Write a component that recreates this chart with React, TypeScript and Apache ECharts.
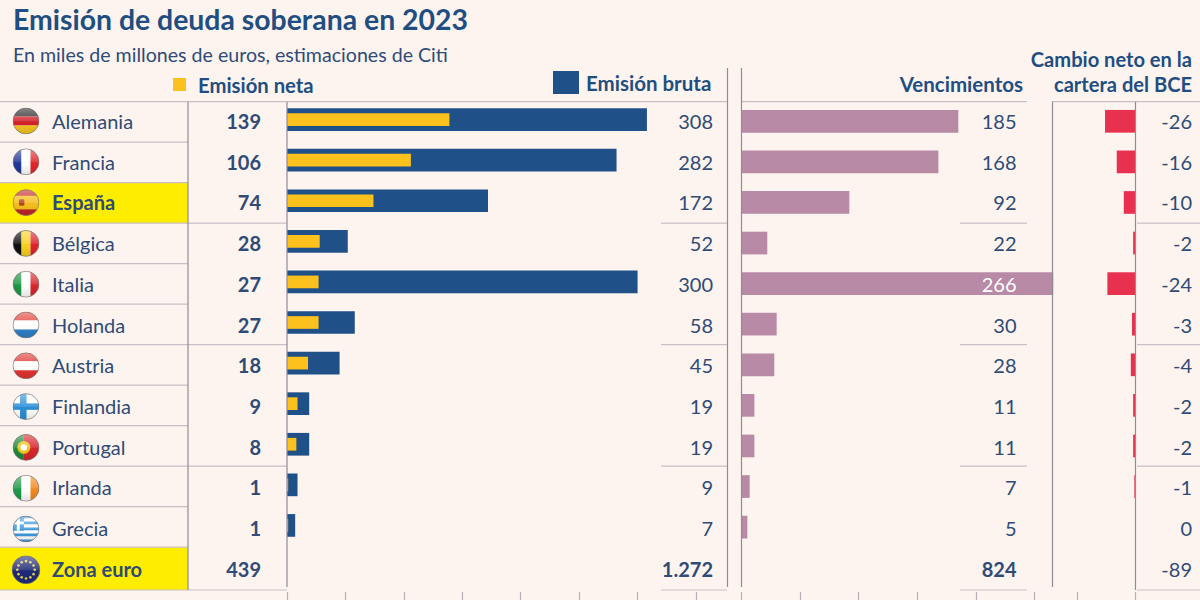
import React, { useEffect, useRef } from "react";
import * as echarts from "echarts";

const countries = ["Alemania", "Francia", "España", "Bélgica", "Italia", "Holanda", "Austria", "Finlandia", "Portugal", "Irlanda", "Grecia", "Zona euro"];
const netIssue = [139, 106, 74, 28, 27, 27, 18, 9, 8, 1, 1];
const grossIssue = [308, 282, 172, 52, 300, 58, 45, 19, 19, 9, 7];
const maturities = [185, 168, 92, 22, 266, 30, 28, 11, 11, 7, 5];
const ecbChange = [-26, -16, -10, -2, -24, -3, -4, -2, -2, -1, 0];
const netLabels = ["139", "106", "74", "28", "27", "27", "18", "9", "8", "1", "1", "439"];
const grossLabels = ["308", "282", "172", "52", "300", "58", "45", "19", "19", "9", "7", "1.272"];
const maturityLabels = ["185", "168", "92", "22", "266", "30", "28", "11", "11", "7", "5", "824"];
const ecbLabels = ["-26", "-16", "-10", "-2", "-24", "-3", "-4", "-2", "-2", "-1", "0", "-89"];
const highlighted = ["España", "Zona euro"];

const BG = "#fdf4ef";
const NAVY = "#1f4e82";
const TEXT = "#2f4b78";
const LINE = "#c9bfc6";
const VLINE = "#8f8d94";
const FONT = "Lato";

const hStripes = (cols: string[], w: number[] = cols.map(() => 1)) => {
  const total = w.reduce((a, b) => a + b, 0);
  let y = 0;
  return cols.map((c, i) => {
    const h = (w[i] / total) * 100;
    const s = `<rect x="0" y="${y}" width="100" height="${h}" fill="${c}"/>`;
    y += h;
    return s;
  }).join("");
};
const vStripes = (cols: string[]) =>
  cols.map((c, i) => `<rect x="${(i * 100) / cols.length}" y="0" width="${100 / cols.length}" height="100" fill="${c}"/>`).join("");

const euStars = Array.from({ length: 12 }, (_, i) => {
  const a = (i * Math.PI) / 6;
  return `<circle cx="${50 + 30 * Math.cos(a)}" cy="${50 + 30 * Math.sin(a)}" r="4.5" fill="#e8d44a"/>`;
}).join("");

const flagArt: string[] = [
  hStripes(["#2a2a2a", "#d3222a", "#f4c61f"]),
  vStripes(["#22389a", "#ffffff", "#e1272c"]),
  hStripes(["#c4262c", "#f4c01e", "#c4262c"], [1, 2, 1]) + `<rect x="24" y="38" width="20" height="24" rx="5" fill="#b5462a"/>`,
  vStripes(["#111111", "#f7d21e", "#e0242c"]),
  vStripes(["#1e9645", "#ffffff", "#d8262c"]),
  hStripes(["#e2433a", "#ffffff", "#2e80c8"]),
  hStripes(["#e2352f", "#ffffff", "#e2352f"]),
  `<rect width="100" height="100" fill="#ffffff"/><rect x="0" y="38" width="100" height="24" fill="#2a8fd8"/><rect x="28" y="0" width="24" height="100" fill="#2a8fd8"/>`,
  `<rect width="42" height="100" fill="#1f8a3a"/><rect x="42" width="58" height="100" fill="#d8262c"/><circle cx="42" cy="50" r="24" fill="#f2c41e"/><circle cx="42" cy="50" r="12" fill="#ffffff"/>`,
  vStripes(["#1f9a4c", "#ffffff", "#f28a22"]),
  hStripes(["#3d9ade", "#ffffff", "#3d9ade", "#ffffff", "#3d9ade", "#ffffff", "#3d9ade", "#ffffff", "#3d9ade"]) +
    `<rect width="42" height="56" fill="#3d9ade"/><rect x="0" y="22" width="42" height="11" fill="#ffffff"/><rect x="16" y="0" width="11" height="56" fill="#ffffff"/>`,
  `<rect width="100" height="100" fill="#1e2a78"/>${euStars}`,
];

const flagUri = (art: string, i: number) => {
  const svg = `<svg xmlns="http://www.w3.org/2000/svg" viewBox="0 0 100 100" width="100" height="100"><defs><clipPath id="c${i}"><circle cx="50" cy="50" r="48"/></clipPath><linearGradient id="g${i}" x1="0" y1="0" x2="0" y2="1"><stop offset="0" stop-color="#fff" stop-opacity="0.45"/><stop offset="0.5" stop-color="#fff" stop-opacity="0.12"/><stop offset="0.55" stop-color="#000" stop-opacity="0"/><stop offset="1" stop-color="#000" stop-opacity="0.12"/></linearGradient></defs><g clip-path="url(#c${i})">${art}<rect width="100" height="100" fill="url(#g${i})"/></g><circle cx="50" cy="50" r="48" fill="none" stroke="#7a7070" stroke-width="2.5"/></svg>`;
  return "data:image/svg+xml;charset=utf-8," + encodeURIComponent(svg);
};

const ROW_TOP = 101.7;
const ROW_H = 40.7;
const rowLine = (i: number) => (i >= 12 ? 590 : ROW_TOP + i * 40.5);

function hLine(x1: number, x2: number, y: number) {
  return { type: "line", silent: true, z: 1, shape: { x1, y1: y, x2, y2: y }, style: { stroke: LINE, lineWidth: 1.2 } };
}
function vLine(x: number, y1: number, y2: number) {
  return { type: "line", silent: true, z: 5, shape: { x1: x, y1, x2: x, y2 }, style: { stroke: VLINE, lineWidth: 1.2 } };
}
function txt(text: string, x: number, y: number, fontSize: number, fontWeight: string | number, fill: string, align = "left") {
  return { type: "text", x, y, style: { text, fontSize, fontWeight, fill, fontFamily: FONT, align, verticalAlign: "middle" } };
}

function buildGraphics() {
  const els: any[] = [];
  highlighted.forEach((name) => {
    const i = countries.indexOf(name);
    els.push({ type: "rect", silent: true, z: 0, shape: { x: 0, y: rowLine(i), width: 188, height: rowLine(i + 1) - rowLine(i) }, style: { fill: "#ffed00" } });
  });
  for (let i = 0; i <= 12; i++) {
    els.push(hLine(0, 188, rowLine(i)));
    if (i % 3 === 0) {
      els.push(hLine(188, 287, rowLine(i)));
      els.push(hLine(i === 0 ? 287 : 661, 727, rowLine(i)));
      els.push(hLine(i === 0 ? 741 : 960, 1027, rowLine(i)));
      els.push(hLine(i === 0 ? 1052 : 1137, 1200, rowLine(i)));
    }
  }
  els.push(vLine(188, ROW_TOP, 590));
  els.push(vLine(287, ROW_TOP, 587));
  els.push(vLine(727.5, 68, 587));
  els.push(vLine(741.5, 68, 587));
  els.push(vLine(1052.5, ROW_TOP, 587));
  els.push(vLine(1135.5, ROW_TOP, 590));
  countries.forEach((_, i) => {
    const big = i === 11;
    const size = big ? 29 : 27;
    els.push({
      type: "image", silent: true, z: 6,
      style: { image: flagUri(flagArt[i], i), x: 26 - size / 2, y: 121 + i * 40.8 - size / 2, width: size, height: size },
    });
  });
  els.push(txt("Emisión de deuda soberana en 2023", 13, 19, 28.4, 700, NAVY));
  els.push(txt("En miles de millones de euros, estimaciones de Citi", 13, 54, 19.6, 400, TEXT));
  els.push(txt("Vencimientos", 1023, 84, 20.5, 700, NAVY, "right"));
  els.push(txt("Cambio neto en la", 1192, 59, 20.1, 700, NAVY, "right"));
  els.push(txt("cartera del BCE", 1192, 84, 20.1, 700, NAVY, "right"));
  return els;
}

const richStyles = {
  n: { fontFamily: FONT, fontSize: 20, color: TEXT },
  b: { fontFamily: FONT, fontSize: 20, fontWeight: 700, color: TEXT },
  w: { fontFamily: FONT, fontSize: 20, color: "#ffffff" },
};

function labelAxis(grid: number, data: string[], position: string, margin: number, align: string, fmt: (v: string, i: number) => string) {
  return {
    type: "category", gridIndex: grid, inverse: true, position, data, z: 20,
    axisLine: { show: false }, axisTick: { show: false }, splitLine: { show: false },
    axisLabel: { show: true, interval: 0, margin, align, formatter: fmt, rich: richStyles, hideOverlap: false },
  };
}
function hiddenCat(grid: number) {
  return { type: "category", gridIndex: grid, inverse: true, data: countries, show: false };
}
function tickAxis(grid: number, min: number, max: number, offset: number) {
  return {
    type: "value", gridIndex: grid, min, max, interval: 50, offset, position: "bottom",
    axisLine: { show: false }, axisLabel: { show: false }, splitLine: { show: false },
    axisTick: { show: true, length: 9, lineStyle: { color: "#b9b0b6", width: 1.2 } },
  };
}
function hiddenVal(grid: number) {
  return { type: "value", gridIndex: grid, show: false, min: 0, max: 1 };
}

function App() {
  const ref = useRef<HTMLDivElement>(null);
  useEffect(() => {
    document.body.style.margin = "0";
    document.body.style.background = BG;
    const chart = echarts.init(ref.current!, null, { renderer: "svg" });
    const labelTop = 100.7;
    const labelHeight = ROW_H * 12;
    const pinkTop = 101;
    const barH = 487;
    chart.setOption({
      animation: false,
      backgroundColor: BG,
      textStyle: { fontFamily: FONT },
      grid: [
        { left: 287, width: 409, top: 99.3, height: barH },
        { left: 741.5, width: 293, top: pinkTop, height: barH },
        { left: 1076.9, width: 58.6, top: pinkTop, height: barH },
        { left: 287, width: 409, top: labelTop, height: labelHeight },
        { left: 741.5, width: 293, top: labelTop, height: labelHeight },
        { left: 1076.9, width: 58.6, top: labelTop, height: labelHeight },
      ],
      legend: [
        {
          data: ["Emisión neta"], left: 168, top: 69.5, icon: "rect", itemWidth: 13, itemHeight: 13, selectedMode: false,
          textStyle: { fontFamily: FONT, fontSize: 20.3, fontWeight: 700, color: NAVY, padding: [0, 0, 0, 7] },
        },
        {
          data: ["Emisión bruta"], left: 548, top: 66, icon: "rect", itemWidth: 26, itemHeight: 23, selectedMode: false,
          textStyle: { fontFamily: FONT, fontSize: 20.5, fontWeight: 700, color: NAVY, padding: [0, 0, 0, 2] },
        },
      ],
      xAxis: [
        tickAxis(0, 0, 350, 5.7),
        tickAxis(1, 0, 250, 4),
        tickAxis(2, -50, 0, 4),
        hiddenVal(3), hiddenVal(4), hiddenVal(5),
      ],
      yAxis: [
        hiddenCat(0),
        hiddenCat(0),
        hiddenCat(1),
        hiddenCat(2),
        labelAxis(3, countries, "left", 235, "left", (v) => (highlighted.includes(v) ? `{b|${v}}` : `{n|${v}}`)),
        labelAxis(3, netLabels, "left", 26, "right", (v) => `{b|${v}}`),
        labelAxis(3, grossLabels, "right", 17, "right", (v, i) => (i === 11 ? `{b|${v}}` : `{n|${v}}`)),
        labelAxis(4, maturityLabels, "right", -18, "right", (v, i) => (i === 11 ? `{b|${v}}` : i === 4 ? `{w|${v}}` : `{n|${v}}`)),
        labelAxis(5, ecbLabels, "right", 56.5, "right", (v) => `{n|${v}}`),
      ],
      series: [
        { name: "Emisión bruta", type: "bar", xAxisIndex: 0, yAxisIndex: 0, data: grossIssue, barWidth: 22.7, itemStyle: { color: "#1f5088" }, z: 2 },
        { name: "Emisión neta", type: "bar", xAxisIndex: 0, yAxisIndex: 1, data: netIssue, barWidth: 12.7, itemStyle: { color: "#fdc11e" }, z: 3 },
        { name: "Vencimientos", type: "bar", xAxisIndex: 1, yAxisIndex: 2, data: maturities, barWidth: 22.7, clip: false, itemStyle: { color: "#b98aa6" }, z: 2 },
        { name: "Cambio neto en la cartera del BCE", type: "bar", xAxisIndex: 2, yAxisIndex: 3, data: ecbChange, barWidth: 22.7, itemStyle: { color: "#e8304f" }, z: 2 },
      ],
      graphic: buildGraphics(),
    });
    return () => chart.dispose();
  }, []);
  return <div ref={ref} style={{ position: "absolute", left: 0, top: 0, width: 1200, height: 600 }} />;
}

export default App;
